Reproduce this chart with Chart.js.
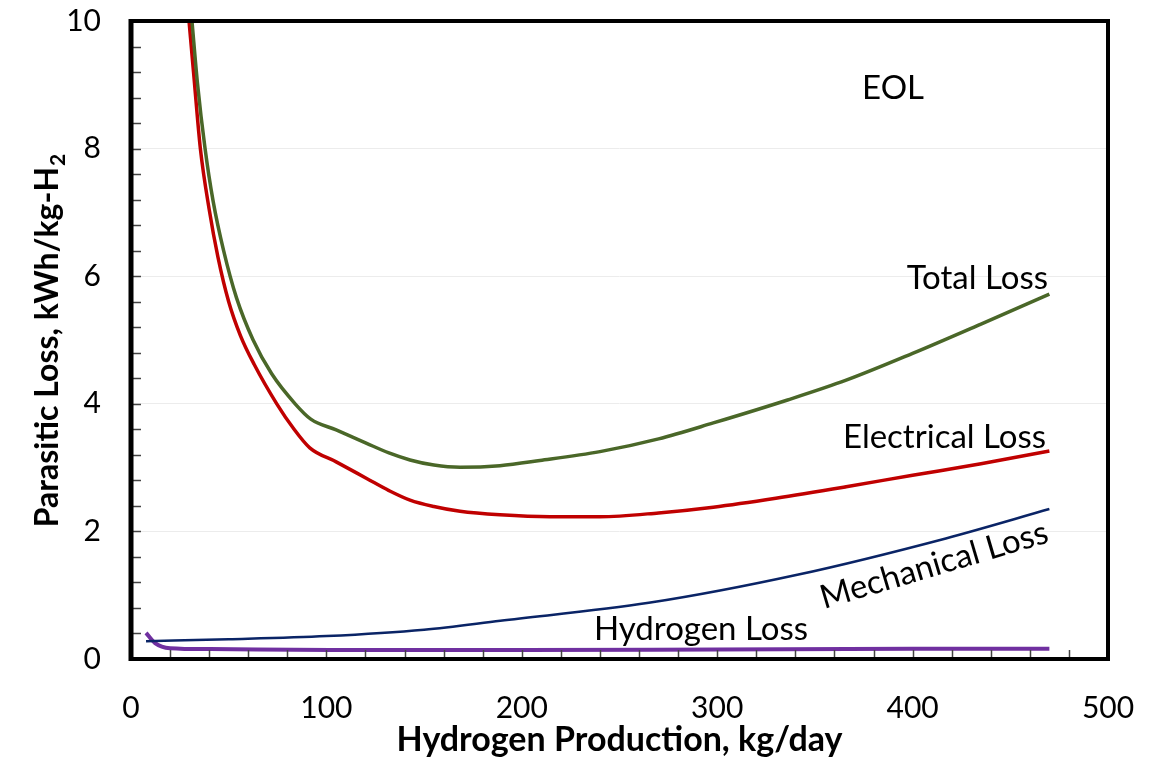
<!DOCTYPE html>
<html>
<head>
<meta charset="utf-8">
<script src="https://cdn.jsdelivr.net/npm/chart.js@4/dist/chart.umd.min.js"></script>
<style>
  html, body { margin: 0; padding: 0; background: #ffffff; }
  #wrap { width: 1155px; height: 760px; }
</style>
</head>
<body>
<div id="wrap"><canvas id="c" width="1155" height="760"></canvas></div>
<script>
// Parasitic losses (kWh per kg H2) versus hydrogen production (kg/day), end of life
const totalX = [31.2, 34, 37.9, 42, 47.4, 54, 62.5, 72, 84, 92, 105, 120.6, 132, 142.8, 155, 168.4, 188.8, 209.3, 240, 270, 298, 336, 366, 400, 435, 470];
const totalLoss = [10, 9.03, 8.0, 7.18, 6.4, 5.66, 5.0, 4.47, 4.0, 3.76, 3.59, 3.38, 3.23, 3.12, 3.04, 3.005, 3.03, 3.11, 3.25, 3.45, 3.70, 4.06, 4.37, 4.79, 5.25, 5.72];

const electricalX = [29.7, 32, 35.5, 40, 44.5, 50, 56, 63, 74.6, 83, 91.5, 105, 120.6, 132, 142.8, 155, 168.4, 188.8, 214.4, 240, 270, 298, 330, 366, 400, 435, 470];
const electricalLoss = [10, 9.2, 8.0, 7.05, 6.3, 5.6, 5.07, 4.62, 4.0, 3.62, 3.31, 3.09, 2.83, 2.64, 2.49, 2.39, 2.315, 2.26, 2.23, 2.23, 2.29, 2.38, 2.52, 2.70, 2.88, 3.06, 3.26];

const mechanicalX = [7.7, 50, 100, 150, 189, 265, 341, 417, 470];
const mechanicalLoss = [0.28, 0.31, 0.36, 0.46, 0.60, 0.88, 1.32, 1.89, 2.35];

const hydrogenX = [7.7, 12.3, 20, 40.5, 102, 200, 300, 400, 470];
const hydrogenLoss = [0.41, 0.25, 0.17, 0.155, 0.14, 0.14, 0.15, 0.16, 0.16];

const xTickValues = [0, 100, 200, 300, 400, 500];
const yTickValues = [0, 2, 4, 6, 8, 10];

const seriesNames = ['Total Loss', 'Electrical Loss', 'Mechanical Loss', 'Hydrogen Loss'];
const conditionLabel = 'EOL';
const xTitle = 'Hydrogen Production, kg/day';
const yTitle = 'Parasitic Loss, kWh/kg-H';
const yTitleSub = '2';

const FONT = 'Lato, "Open Sans", sans-serif';

function points(xs, ys) {
  return xs.map((x, i) => ({ x: x, y: ys[i] }));
}

// Frame, inward minor ticks, curve labels and the y-axis title
const decorations = {
  id: 'decorations',
  afterDatasetsDraw(chart) {
    const ctx = chart.ctx;
    const a = chart.chartArea;
    const xs = chart.scales.x;
    const ys = chart.scales.y;
    ctx.save();

    // minor ticks pointing into the plot
    ctx.strokeStyle = '#444444';
    ctx.lineWidth = 1.5;
    ctx.beginPath();
    for (let v = 20; v < 500; v += 20) {
      const px = Math.round(xs.getPixelForValue(v)) + 0.5;
      ctx.moveTo(px, a.bottom);
      ctx.lineTo(px, a.bottom - 9);
    }
    for (let k = 1; k < 25; k++) {
      const py = Math.round(ys.getPixelForValue(k * 0.4)) + 0.5;
      ctx.moveTo(a.left, py);
      ctx.lineTo(a.left + 10, py);
    }
    ctx.stroke();

    // plot frame
    ctx.strokeStyle = '#000000';
    ctx.lineWidth = 4;
    ctx.strokeRect(a.left, a.top, a.right - a.left, a.bottom - a.top);
    ctx.lineWidth = 5;
    ctx.beginPath();
    ctx.moveTo(a.left, a.top - 2);
    ctx.lineTo(a.left, a.bottom + 2);
    ctx.stroke();

    // curve labels
    ctx.fillStyle = '#000000';
    ctx.font = '33px ' + FONT;
    ctx.textBaseline = 'middle';

    ctx.textAlign = 'center';
    ctx.fillText(conditionLabel, xs.getPixelForValue(390), ys.getPixelForValue(8.95));

    ctx.textAlign = 'right';
    ctx.fillText(seriesNames[0], xs.getPixelForValue(469.3), ys.getPixelForValue(5.97));
    ctx.fillText(seriesNames[1], xs.getPixelForValue(468.3), ys.getPixelForValue(3.48));

    ctx.textAlign = 'center';
    ctx.fillText(seriesNames[3], xs.getPixelForValue(291.7), ys.getPixelForValue(0.47));

    ctx.save();
    ctx.translate(xs.getPixelForValue(411), ys.getPixelForValue(1.47));
    ctx.rotate(-16.5 * Math.PI / 180);
    ctx.fillText(seriesNames[2], 0, 0);
    ctx.restore();

    // y-axis title with subscript
    ctx.save();
    ctx.translate(58, 341);
    ctx.rotate(-Math.PI / 2);
    ctx.textBaseline = 'alphabetic';
    ctx.textAlign = 'left';
    const mainFont = 'bold 32px ' + FONT;
    const subFont = 'bold 21px ' + FONT;
    ctx.font = mainFont;
    const w1 = ctx.measureText(yTitle).width;
    ctx.font = subFont;
    const w2 = ctx.measureText(yTitleSub).width;
    const start = -(w1 + w2) / 2;
    ctx.font = mainFont;
    ctx.fillText(yTitle, start, 0);
    ctx.font = subFont;
    ctx.fillText(yTitleSub, start + w1 + 1, 7);
    ctx.restore();

    ctx.restore();
  }
};

const lineStyle = { pointRadius: 0, pointHoverRadius: 0, fill: false, showLine: true, cubicInterpolationMode: 'monotone' };

new Chart(document.getElementById('c'), {
  type: 'scatter',
  data: {
    datasets: [
      Object.assign({ label: seriesNames[0], data: points(totalX, totalLoss), borderColor: '#4a6728', borderWidth: 3.5 }, lineStyle),
      Object.assign({ label: seriesNames[1], data: points(electricalX, electricalLoss), borderColor: '#c00000', borderWidth: 3.5 }, lineStyle),
      Object.assign({ label: seriesNames[2], data: points(mechanicalX, mechanicalLoss), borderColor: '#0a2466', borderWidth: 2.5 }, lineStyle),
      Object.assign({ label: seriesNames[3], data: points(hydrogenX, hydrogenLoss), borderColor: '#7030a0', borderWidth: 4 }, lineStyle)
    ]
  },
  options: {
    responsive: false,
    animation: false,
    devicePixelRatio: 1,
    layout: { padding: { top: 21, right: 47, left: 0, bottom: 0 } },
    plugins: { legend: { display: false }, tooltip: { enabled: false } },
    scales: {
      x: {
        type: 'linear',
        min: 0,
        max: 500,
        afterBuildTicks(scale) { scale.ticks = xTickValues.map(v => ({ value: v })); },
        afterFit(scale) {
          scale.height = 101;
          scale.paddingLeft = 0;
          scale.paddingRight = 0;
        },
        ticks: { color: '#000000', font: { family: FONT, size: 30 }, padding: 31, maxRotation: 0 },
        grid: { display: false, drawTicks: false },
        border: { display: false },
        title: {
          display: true,
          text: xTitle,
          color: '#000000',
          font: { family: FONT, size: 34, weight: 'bold' },
          padding: { top: 0, bottom: 0 }
        }
      },
      y: {
        type: 'linear',
        min: 0,
        max: 10,
        afterBuildTicks(scale) { scale.ticks = yTickValues.map(v => ({ value: v })); },
        afterFit(scale) {
          scale.width = 131;
          scale.paddingTop = 0;
          scale.paddingBottom = 0;
        },
        ticks: { color: '#000000', font: { family: FONT, size: 30 }, padding: 30 },
        grid: { color: '#ececec', lineWidth: 1, drawTicks: false },
        border: { display: false }
      }
    }
  },
  plugins: [decorations]
});
</script>
</body>
</html>
